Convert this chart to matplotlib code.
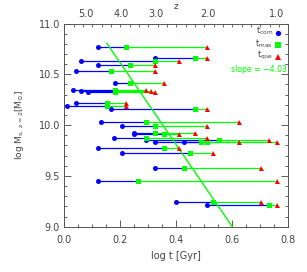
import numpy as np
import matplotlib
matplotlib.use("Agg")
import matplotlib.pyplot as plt

# data: log stellar mass at z=2 and log t for three epochs
logM = [10.77, 10.656, 10.629, 10.588, 10.528, 10.418, 10.35, 10.337, 10.33,
        10.214, 10.184, 10.154, 10.029, 9.993, 9.922, 9.912, 9.874, 9.853,
        9.833, 9.833, 9.775, 9.726, 9.581, 9.447, 9.241, 9.215]
t_com = [0.119, 0.324, 0.061, 0.119, 0.041, 0.181, 0.030, 0.061, 0.084,
         0.041, 0.010, 0.167, 0.130, 0.206, 0.249, 0.249, 0.179, 0.292,
         0.324, 0.429, 0.119, 0.206, 0.324, 0.119, 0.399, 0.509]
t_max = [0.220, 0.467, 0.324, 0.235, 0.167, 0.235, 0.181, 0.181, 0.181,
         0.154, 0.154, 0.467, 0.292, 0.324, 0.324, 0.357, 0.292, 0.553,
         0.509, 0.487, 0.357, 0.449, 0.429, 0.263, 0.530, 0.731]
t_que = [0.509, 0.509, 0.411, 0.324, 0.324, 0.357, 0.292, 0.309, 0.324,
         0.220, 0.220, 0.509, 0.624, 0.509, 0.467, 0.411, 0.509, 0.731,
         0.760, 0.624, 0.411, 0.530, 0.703, 0.760, 0.703, 0.760]

slope = -4.03
fit_x = [0.152, 0.60]
fit_anchor = (0.60, 9.0)

z_labels = ["5.0", "4.0", "3.0", "2.0", "1.0"]
z_pos = [0.078, 0.203, 0.326, 0.513, 0.760]

BLUE = "#0000ff"
GREEN = "#00ff00"
RED = "#ff0000"
TXT = "#444444"

fig = plt.figure(figsize=(3.07, 2.72), dpi=100)
ax = fig.add_axes([0.2094, 0.1665, 0.7296, 0.7471])

for y, a, b, c in zip(logM, t_com, t_max, t_que):
    ax.plot([a, b], [y, y], color=BLUE, lw=0.9, zorder=2)
    ax.plot([b, c], [y, y], color=GREEN, lw=0.9, zorder=2)
ax.plot(t_com, logM, 'o', color=BLUE, ms=3.6, mew=0, zorder=4)
ax.plot(t_max, logM, 's', color=GREEN, ms=3.6, mew=0, zorder=4)
ax.plot(t_que, logM, '^', color=RED, ms=3.6, mew=0, zorder=4)

fx = np.array(fit_x)
fy = fit_anchor[1] + slope * (fx - fit_anchor[0])
ax.plot(fx, fy, color=GREEN, lw=1.0, zorder=3)

ax.set_xlim(0, 0.8)
ax.set_ylim(9.0, 11.0)
ax.set_xticks([0.0, 0.2, 0.4, 0.6, 0.8])
ax.set_xticks(np.arange(0, 0.801, 0.05), minor=True)
ax.set_yticks([9.0, 9.5, 10.0, 10.5, 11.0])
ax.set_yticks(np.arange(9.0, 11.001, 0.1), minor=True)
ax.set_xticklabels(["0.0", "0.2", "0.4", "0.6", "0.8"])
ax.set_yticklabels(["9.0", "9.5", "10.0", "10.5", "11.0"])
ax.tick_params(which='both', direction='in', top=False, right=True,
               labelsize=7, colors=TXT, width=0.6)
ax.tick_params(axis='x', which='major', length=5, pad=6)
ax.tick_params(axis='y', which='major', length=5, pad=3)
ax.tick_params(which='minor', length=2.5)
for s in ax.spines.values():
    s.set_color('#555555')
    s.set_linewidth(0.7)

ax.set_xlabel("log t [Gyr]", fontsize=7, color=TXT, labelpad=4)
ax.set_ylabel(r"log M$_{\mathrm{s,\ z=2}}$[M$_{\odot}$]", fontsize=6.5, color=TXT, labelpad=9)

top = ax.twiny()
top.set_xlim(0, 0.8)
top.set_xticks(z_pos)
top.set_xticklabels(z_labels)
top.set_xticks(np.linspace(0, 0.8, 25), minor=True)
top.tick_params(which='major', length=0, labelsize=7, colors=TXT, pad=3)
top.tick_params(which='minor', direction='in', length=2.5, width=0.6, colors='#555555')
top.set_xlabel("z", fontsize=6.5, color=TXT, labelpad=0.5)
for s in top.spines.values():
    s.set_visible(False)

# legend
leg = [("com", BLUE, 'o'), ("max", GREEN, 's'), ("que", RED, '^')]
ys = [10.925, 10.805, 10.685]
for (lab, col, mk), yy in zip(leg, ys):
    ax.text(0.746, yy, r"t$_{\mathrm{%s}}$" % lab, fontsize=6, color=TXT,
            ha='right', va='center')
    ax.plot([0.762], [yy - 0.015], mk, color=col, ms=3.8, mew=0, clip_on=False, zorder=5)
ax.text(0.795, 10.55, "slope = \u22124.03", fontsize=5.6, color=GREEN,
        ha='right', va='center')

fig.savefig("out.png", dpi=100)
